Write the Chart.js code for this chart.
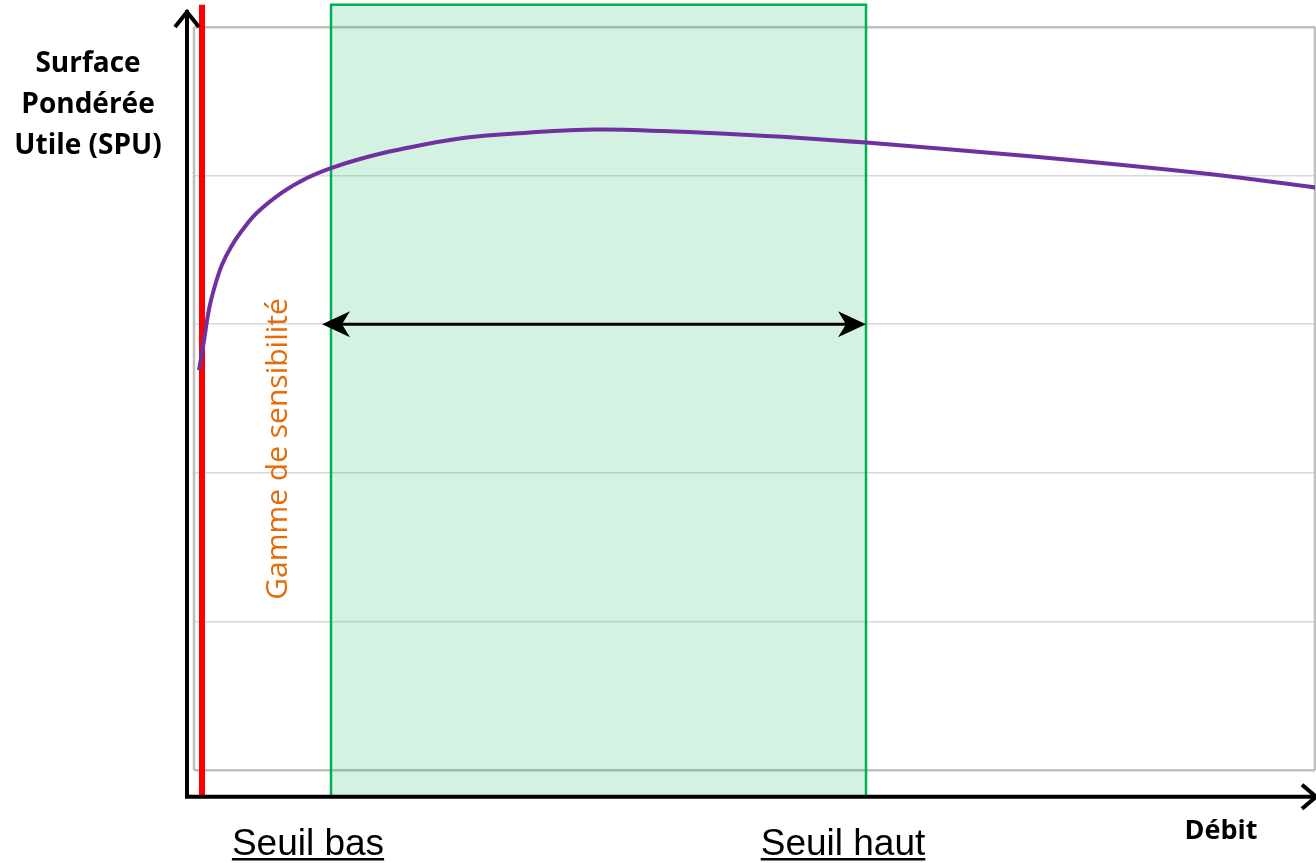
<!DOCTYPE html>
<html>
<head>
<meta charset="utf-8">
<script src="https://cdn.jsdelivr.net/npm/chart.js@4.4.1/dist/chart.umd.min.js"></script>
<style>
  html, body { margin: 0; padding: 0; background: #ffffff; }
  #wrap { width: 1316px; height: 863px; position: relative; }
</style>
</head>
<body>
<div id="wrap"><canvas id="c"></canvas></div>
<script>
// ---- Data ----
const debit = [0.5, 1.0, 1.5, 2.1, 2.8, 3.7, 4.8, 6.3, 8.9, 11.3, 13.7, 16.6, 20.3, 26.9, 33.6, 40.3, 46.9, 53.6, 60.3, 67.2, 83.6, 100.6, 112.2];
const spu   = [2.69, 2.89, 3.10, 3.26, 3.40, 3.52, 3.63, 3.75, 3.89, 3.984, 4.051, 4.112, 4.172, 4.253, 4.29, 4.31, 4.30, 4.28, 4.255, 4.222, 4.13, 4.017, 3.92];

const seuilValues = [13.7, 67.2];           // Seuil bas, Seuil haut (Débit)
const seuilLabels = ['Seuil bas', 'Seuil haut'];
const debitCritiqueX = [0.8, 0.8];          // red vertical line
const debitCritiqueY = [-0.18, 5.15];
const gammeX = [12.8, 67.2];                // double arrow extent
const gammeY = 3;
const gammeLabel = 'Gamme de sensibilité';
const yTitleLines = ['Surface', 'Pondérée', 'Utile (SPU)'];
const xTitle = 'Débit';
const xRange = [0, 112.1];
const yRange = [0, 5];
const yTicks = [0, 1, 2, 3, 4, 5];
const zoneTop = 5.15, zoneBottom = -0.18;

const curveData = debit.map((x, i) => ({ x: x, y: spu[i] }));
const redData = debitCritiqueX.map((x, i) => ({ x: x, y: debitCritiqueY[i] }));

function drawArrowHead(ctx, tipX, tipY, dir) {
  ctx.beginPath();
  ctx.moveTo(tipX, tipY);
  ctx.lineTo(tipX - dir * 28, tipY - 13);
  ctx.lineTo(tipX - dir * 20, tipY);
  ctx.lineTo(tipX - dir * 28, tipY + 13);
  ctx.closePath();
  ctx.fill();
}

const decorPlugin = {
  id: 'decor',
  beforeDatasetsDraw(chart) {
    const { ctx, chartArea: a, scales: { x, y } } = chart;
    ctx.save();
    ctx.strokeStyle = '#bfbfbf';
    ctx.lineWidth = 2.5;
    ctx.beginPath();
    ctx.moveTo(a.left, a.top); ctx.lineTo(a.left, a.bottom);
    ctx.moveTo(a.right, a.top); ctx.lineTo(a.right, a.bottom);
    ctx.stroke();
    const x0 = x.getPixelForValue(seuilValues[0]);
    const x1 = x.getPixelForValue(seuilValues[1]);
    const yt = y.getPixelForValue(zoneTop);
    const yb = y.getPixelForValue(zoneBottom);
    ctx.fillStyle = 'rgba(0,176,80,0.17)';
    ctx.fillRect(x0, yt, x1 - x0, yb - yt);
    ctx.strokeStyle = '#00b050';
    ctx.lineWidth = 2.5;
    ctx.strokeRect(x0, yt, x1 - x0, yb - yt);
    ctx.restore();
  },
  afterDatasetsDraw(chart) {
    const { ctx, chartArea: a, scales: { x, y } } = chart;
    ctx.save();
    const axX = a.left - 7;
    const axY = y.getPixelForValue(zoneBottom);
    ctx.strokeStyle = '#000';
    ctx.lineWidth = 4;
    ctx.lineCap = 'butt';
    ctx.beginPath();
    ctx.moveTo(axX, axY + 2); ctx.lineTo(axX, 10);
    ctx.moveTo(axX - 2, axY); ctx.lineTo(1316, axY);
    ctx.stroke();
    ctx.lineWidth = 4;
    ctx.lineJoin = 'miter';
    ctx.beginPath();
    ctx.moveTo(axX - 12, 27); ctx.lineTo(axX, 12); ctx.lineTo(axX + 12, 27);
    ctx.stroke();
    ctx.beginPath();
    ctx.moveTo(1302, axY - 12); ctx.lineTo(1316, axY); ctx.lineTo(1302, axY + 12);
    ctx.stroke();

    const gx0 = x.getPixelForValue(gammeX[0]);
    const gx1 = x.getPixelForValue(gammeX[1]);
    const gy = y.getPixelForValue(gammeY);
    ctx.lineWidth = 3;
    ctx.beginPath();
    ctx.moveTo(gx0 + 20, gy); ctx.lineTo(gx1 - 20, gy);
    ctx.stroke();
    ctx.fillStyle = '#000';
    drawArrowHead(ctx, gx0, gy, -1);
    drawArrowHead(ctx, gx1, gy, 1);

    ctx.save();
    ctx.translate(x.getPixelForValue(8.4), 449);
    ctx.rotate(-Math.PI / 2);
    ctx.fillStyle = '#e46c0a';
    ctx.font = '30px "Open Sans"';
    ctx.textAlign = 'center';
    ctx.textBaseline = 'middle';
    ctx.fillText(gammeLabel, 0, 0);
    ctx.restore();

    ctx.font = '37px "Liberation Sans"';
    ctx.fillStyle = '#000';
    ctx.textAlign = 'center';
    ctx.textBaseline = 'alphabetic';
    seuilValues.forEach((v, i) => {
      const cx = x.getPixelForValue(v) - 23;
      const w = ctx.measureText(seuilLabels[i]).width;
      ctx.fillText(seuilLabels[i], cx, 855);
      ctx.fillRect(cx - w / 2, 858, w, 2.5);
    });

    ctx.font = 'bold 27px "Open Sans"';
    ctx.textAlign = 'center';
    ctx.fillText(xTitle, 1221, 839);
    ctx.font = 'bold 28px "Open Sans"';
    yTitleLines.forEach((t, i) => ctx.fillText(t, 88, 72 + i * 41));
    ctx.restore();
  }
};

new Chart(document.getElementById('c'), {
  type: 'line',
  data: {
    datasets: [
      {
        data: curveData,
        borderColor: '#7030a0',
        borderWidth: 4,
        pointRadius: 0,
        tension: 0.4,
        fill: false,
        order: 0
      },
      {
        data: redData,
        borderColor: '#ff0000',
        borderWidth: 6,
        pointRadius: 0,
        fill: false,
        clip: false,
        order: 1
      }
    ]
  },
  options: {
    responsive: true,
    maintainAspectRatio: false,
    animation: false,
    devicePixelRatio: 1,
    layout: { padding: { left: 194, right: 1, top: 27, bottom: 93 } },
    plugins: { legend: { display: false }, tooltip: { enabled: false } },
    scales: {
      x: {
        type: 'linear',
        min: xRange[0], max: xRange[1],
        display: false
      },
      y: {
        type: 'linear',
        min: yRange[0], max: yRange[1],
        afterBuildTicks: (s) => { s.ticks = yTicks.map(v => ({ value: v })); },
        ticks: { display: false },
        border: { display: false },
        grid: {
          drawTicks: false,
          color: (c) => (c.tick && (c.tick.value === yRange[0] || c.tick.value === yRange[1])) ? '#bfbfbf' : '#d9d9d9',
          lineWidth: (c) => (c.tick && (c.tick.value === yRange[0] || c.tick.value === yRange[1])) ? 2.5 : 1.5
        }
      }
    }
  },
  plugins: [decorPlugin]
});
</script>
</body>
</html>
